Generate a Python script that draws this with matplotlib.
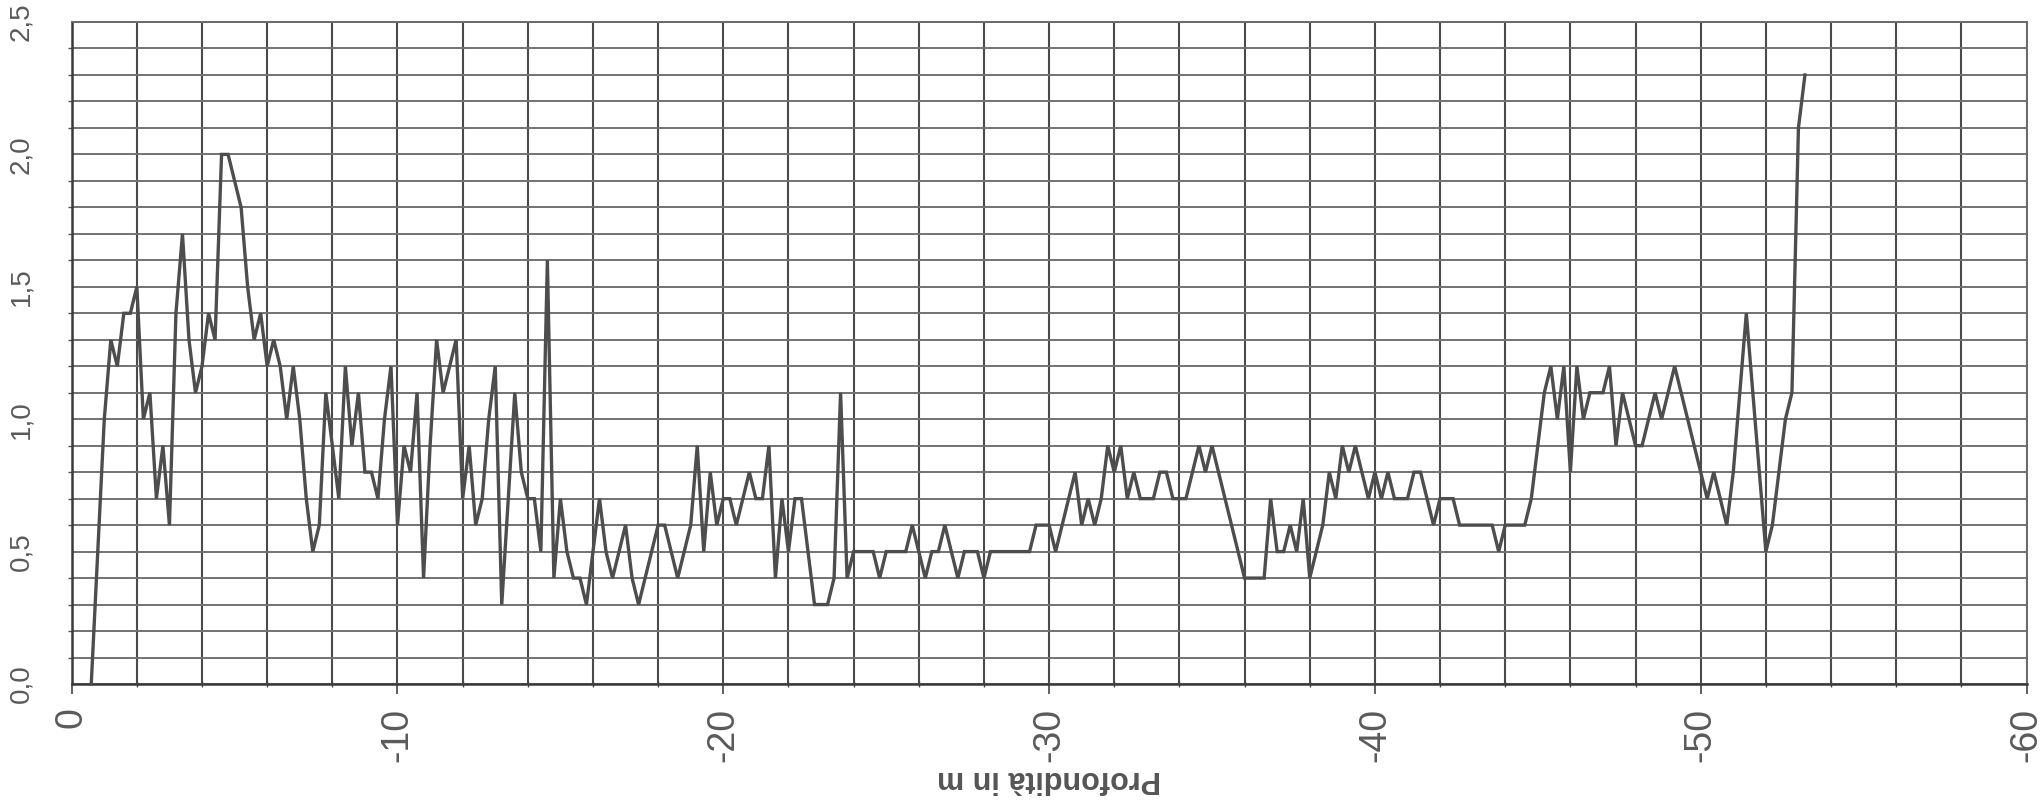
import numpy as np
import matplotlib
matplotlib.use("Agg")
import matplotlib.pyplot as plt
from matplotlib.ticker import FixedLocator, MultipleLocator

plt.rcParams['font.family'] = ['Liberation Sans', 'DejaVu Sans']

# Depth of each reading (m, negative downwards)
depth = [
    -0.6, -0.8, -1.0, -1.2, -1.4, -1.6, -1.8, -2.0, -2.2, -2.4,
    -2.6, -2.8, -3.0, -3.2, -3.4, -3.6, -3.8, -4.0, -4.2, -4.4,
    -4.6, -4.8, -5.0, -5.2, -5.4, -5.6, -5.8, -6.0, -6.2, -6.4,
    -6.6, -6.8, -7.0, -7.2, -7.4, -7.6, -7.8, -8.0, -8.2, -8.4,
    -8.6, -8.8, -9.0, -9.2, -9.4, -9.6, -9.8, -10.0, -10.2, -10.4,
    -10.6, -10.8, -11.0, -11.2, -11.4, -11.6, -11.8, -12.0, -12.2, -12.4,
    -12.6, -12.8, -13.0, -13.2, -13.4, -13.6, -13.8, -14.0, -14.2, -14.4,
    -14.6, -14.8, -15.0, -15.2, -15.4, -15.6, -15.8, -16.0, -16.2, -16.4,
    -16.6, -16.8, -17.0, -17.2, -17.4, -17.6, -17.8, -18.0, -18.2, -18.4,
    -18.6, -18.8, -19.0, -19.2, -19.4, -19.6, -19.8, -20.0, -20.2, -20.4,
    -20.6, -20.8, -21.0, -21.2, -21.4, -21.6, -21.8, -22.0, -22.2, -22.4,
    -22.6, -22.8, -23.0, -23.2, -23.4, -23.6, -23.8, -24.0, -24.2, -24.4,
    -24.6, -24.8, -25.0, -25.2, -25.4, -25.6, -25.8, -26.0, -26.2, -26.4,
    -26.6, -26.8, -27.0, -27.2, -27.4, -27.6, -27.8, -28.0, -28.2, -28.4,
    -28.6, -28.8, -29.0, -29.2, -29.4, -29.6, -29.8, -30.0, -30.2, -30.4,
    -30.6, -30.8, -31.0, -31.2, -31.4, -31.6, -31.8, -32.0, -32.2, -32.4,
    -32.6, -32.8, -33.0, -33.2, -33.4, -33.6, -33.8, -34.0, -34.2, -34.4,
    -34.6, -34.8, -35.0, -35.2, -35.4, -35.6, -35.8, -36.0, -36.2, -36.4,
    -36.6, -36.8, -37.0, -37.2, -37.4, -37.6, -37.8, -38.0, -38.2, -38.4,
    -38.6, -38.8, -39.0, -39.2, -39.4, -39.6, -39.8, -40.0, -40.2, -40.4,
    -40.6, -40.8, -41.0, -41.2, -41.4, -41.6, -41.8, -42.0, -42.2, -42.4,
    -42.6, -42.8, -43.0, -43.2, -43.4, -43.6, -43.8, -44.0, -44.2, -44.4,
    -44.6, -44.8, -45.0, -45.2, -45.4, -45.6, -45.8, -46.0, -46.2, -46.4,
    -46.6, -46.8, -47.0, -47.2, -47.4, -47.6, -47.8, -48.0, -48.2, -48.4,
    -48.6, -48.8, -49.0, -49.2, -49.4, -49.6, -49.8, -50.0, -50.2, -50.4,
    -50.6, -50.8, -51.0, -51.2, -51.4, -51.6, -51.8, -52.0, -52.2, -52.4,
    -52.6, -52.8, -53.0, -53.2,
]

# Measured value at each depth
value = [
    0.0, 0.5, 1.0, 1.3, 1.2, 1.4, 1.4, 1.5, 1.0, 1.1,
    0.7, 0.9, 0.6, 1.4, 1.7, 1.3, 1.1, 1.2, 1.4, 1.3,
    2.0, 2.0, 1.9, 1.8, 1.5, 1.3, 1.4, 1.2, 1.3, 1.2,
    1.0, 1.2, 1.0, 0.7, 0.5, 0.6, 1.1, 0.9, 0.7, 1.2,
    0.9, 1.1, 0.8, 0.8, 0.7, 1.0, 1.2, 0.6, 0.9, 0.8,
    1.1, 0.4, 0.9, 1.3, 1.1, 1.2, 1.3, 0.7, 0.9, 0.6,
    0.7, 1.0, 1.2, 0.3, 0.7, 1.1, 0.8, 0.7, 0.7, 0.5,
    1.6, 0.4, 0.7, 0.5, 0.4, 0.4, 0.3, 0.5, 0.7, 0.5,
    0.4, 0.5, 0.6, 0.4, 0.3, 0.4, 0.5, 0.6, 0.6, 0.5,
    0.4, 0.5, 0.6, 0.9, 0.5, 0.8, 0.6, 0.7, 0.7, 0.6,
    0.7, 0.8, 0.7, 0.7, 0.9, 0.4, 0.7, 0.5, 0.7, 0.7,
    0.5, 0.3, 0.3, 0.3, 0.4, 1.1, 0.4, 0.5, 0.5, 0.5,
    0.5, 0.4, 0.5, 0.5, 0.5, 0.5, 0.6, 0.5, 0.4, 0.5,
    0.5, 0.6, 0.5, 0.4, 0.5, 0.5, 0.5, 0.4, 0.5, 0.5,
    0.5, 0.5, 0.5, 0.5, 0.5, 0.6, 0.6, 0.6, 0.5, 0.6,
    0.7, 0.8, 0.6, 0.7, 0.6, 0.7, 0.9, 0.8, 0.9, 0.7,
    0.8, 0.7, 0.7, 0.7, 0.8, 0.8, 0.7, 0.7, 0.7, 0.8,
    0.9, 0.8, 0.9, 0.8, 0.7, 0.6, 0.5, 0.4, 0.4, 0.4,
    0.4, 0.7, 0.5, 0.5, 0.6, 0.5, 0.7, 0.4, 0.5, 0.6,
    0.8, 0.7, 0.9, 0.8, 0.9, 0.8, 0.7, 0.8, 0.7, 0.8,
    0.7, 0.7, 0.7, 0.8, 0.8, 0.7, 0.6, 0.7, 0.7, 0.7,
    0.6, 0.6, 0.6, 0.6, 0.6, 0.6, 0.5, 0.6, 0.6, 0.6,
    0.6, 0.7, 0.9, 1.1, 1.2, 1.0, 1.2, 0.8, 1.2, 1.0,
    1.1, 1.1, 1.1, 1.2, 0.9, 1.1, 1.0, 0.9, 0.9, 1.0,
    1.1, 1.0, 1.1, 1.2, 1.1, 1.0, 0.9, 0.8, 0.7, 0.8,
    0.7, 0.6, 0.8, 1.1, 1.4, 1.1, 0.8, 0.5, 0.6, 0.8,
    1.0, 1.1, 2.1, 2.3,
]

x_ticks = [0, -10, -20, -30, -40, -50, -60]
x_tick_labels = ["0", "-10", "-20", "-30", "-40", "-50", "-60"]
y_ticks = [0.0, 0.5, 1.0, 1.5, 2.0, 2.5]
y_tick_labels = ["0,0", "0,5", "1,0", "1,5", "2,0", "2,5"]
x_label = "Profondità in m"

W, H = 2041, 806
fig = plt.figure(figsize=(W / 100, H / 100), dpi=100)
fig.patch.set_facecolor("white")

x0, x1 = 71.7, 2026.5
y0, y1 = 684.0, 22.0
ax = fig.add_axes([x0 / W, 1 - y0 / H, (x1 - x0) / W, (y0 - y1) / H])
ax.set_facecolor("white")

ax.set_xlim(0, -60)
ax.set_ylim(0, 2.5)

# grid: vertical lines every 2 m, horizontal lines every 0.1
ax.xaxis.set_major_locator(FixedLocator(x_ticks))
ax.xaxis.set_minor_locator(MultipleLocator(2))
ax.yaxis.set_major_locator(FixedLocator(y_ticks))
ax.yaxis.set_minor_locator(MultipleLocator(0.1))
ax.grid(which="both", axis="x", color="#4a4a4a", linewidth=1.5, zorder=1)
ax.grid(which="both", axis="y", color="#727272", linewidth=1.4, zorder=1)
ax.set_axisbelow(True)

ax.plot(depth, value, color="#4d4d4d", linewidth=2.4, solid_joinstyle="miter",
        zorder=3, clip_on=False)

ax.set_xticklabels(x_tick_labels, rotation=90, fontsize=27, color="#5a5a5a")
ax.set_yticklabels(y_tick_labels, rotation=90, fontsize=20, color="#5a5a5a",
                   va="center")
ax.tick_params(axis="x", which="major", direction="out", length=7, width=1.2,
               color="#444444", pad=10)
ax.tick_params(axis="x", which="minor", direction="inout", length=4, width=1.0,
               color="#444444")
ax.tick_params(axis="y", which="major", length=0, pad=27)
ax.tick_params(axis="y", which="minor", direction="out", length=3, width=1.0,
               color="#555555")

for side in ("left", "bottom"):
    ax.spines[side].set_color("#3a3a3a")
    ax.spines[side].set_linewidth(1.8)
for side in ("top", "right"):
    ax.spines[side].set_color("#6a6a6a")
    ax.spines[side].set_linewidth(1.4)

fig.text(1049 / W, 1 - 779 / H, x_label, rotation=180, ha="center",
         va="center", fontsize=22, fontweight="bold", color="#555555")

fig.savefig("out.png", dpi=100, facecolor="white")
